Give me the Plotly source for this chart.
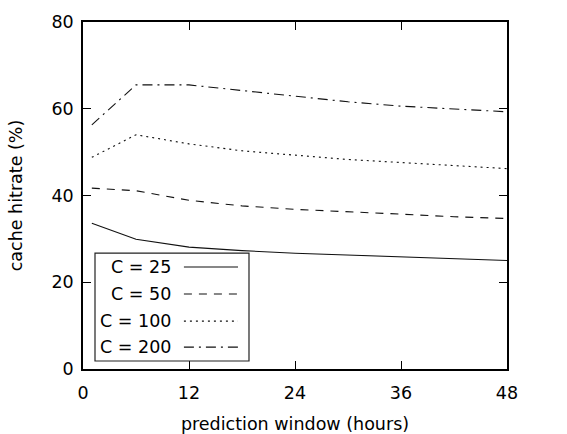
import plotly.graph_objects as go

# prediction window in hours
hours = [1, 6, 12, 18, 24, 30, 36, 42, 48]

# cache hitrate (%) per cache size C
hit_c25 = [33.6, 29.9, 28.1, 27.3, 26.7, 26.3, 25.8, 25.4, 25.0]
hit_c50 = [41.7, 41.1, 38.9, 37.6, 36.8, 36.3, 35.7, 35.1, 34.7]
hit_c100 = [48.8, 54.0, 51.9, 50.3, 49.3, 48.3, 47.6, 46.9, 46.2]
hit_c200 = [56.3, 65.5, 65.5, 64.2, 62.8, 61.6, 60.6, 59.9, 59.3]

series_names = ["C = 25", "C = 50", "C = 100", "C = 200"]
x_ticks = [0, 12, 24, 36, 48]
y_ticks = [0, 20, 40, 60, 80]

dashes = ["solid", "8px,7px", "2px,4px", "10px,5px,2px,5px"]
FONT = "DejaVu Sans"
FS = 17.5

fig = go.Figure()
for name, ys, dash in zip(series_names, [hit_c25, hit_c50, hit_c100, hit_c200], dashes):
    fig.add_trace(go.Scatter(
        x=hours, y=ys, mode="lines", name=name,
        line=dict(color="#111111", width=1.1, dash=dash),
        showlegend=False,
    ))

# gnuplot-style key: label on the left, line sample on the right
key_rows = [0.294, 0.216, 0.138, 0.063]
shapes = [dict(type="rect", xref="paper", yref="paper",
               x0=0.0283, x1=0.3915, y0=0.023, y1=0.334,
               line=dict(color="#222222", width=1.2), fillcolor="white", layer="above")]
annotations = []
for name, yk, dash in zip(series_names, key_rows, dashes):
    shapes.append(dict(type="line", xref="paper", yref="paper",
                       x0=0.238, x1=0.3656, y0=yk, y1=yk,
                       line=dict(color="#111111", width=1.1, dash=dash), layer="above"))
    annotations.append(dict(xref="paper", yref="paper", x=0.2123, y=yk,
                            text=name, showarrow=False, xanchor="right", yanchor="middle",
                            font=dict(family=FONT, size=FS, color="black")))

axis_common = dict(
    showline=True, linecolor="black", linewidth=1.5, mirror="ticks",
    ticks="inside", ticklen=8, tickcolor="black", tickwidth=1,
    showgrid=False, zeroline=False, automargin=False,
    tickfont=dict(family=FONT, size=FS, color="black"),
)

fig.update_layout(
    width=567, height=434,
    margin=dict(l=83, r=60, t=22, b=65),
    paper_bgcolor="white", plot_bgcolor="white",
    font=dict(family=FONT, size=FS, color="black"),
    shapes=shapes, annotations=annotations,
    xaxis=dict(range=[0, 48], tickvals=x_ticks,
               title=dict(text="prediction window (hours)", standoff=25,
                          font=dict(family=FONT, size=FS)),
               ticklabelstandoff=7, **axis_common),
    yaxis=dict(range=[0, 80], tickvals=y_ticks,
               title=dict(text="cache hitrate (%)", standoff=24,
                          font=dict(family=FONT, size=FS)),
               ticklabelstandoff=4, **axis_common),
)

fig.write_html("out.html")
